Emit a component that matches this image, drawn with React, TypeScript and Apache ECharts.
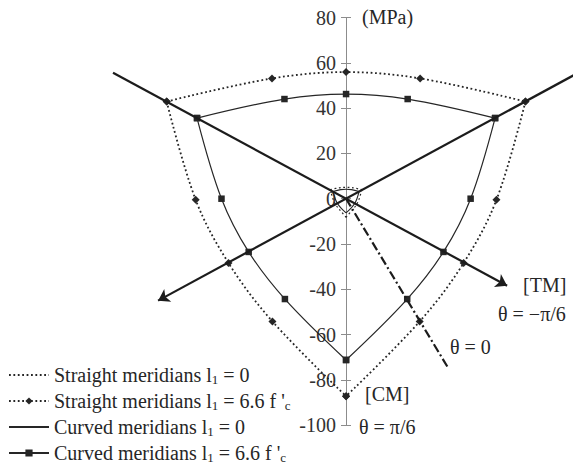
import React, { useEffect, useRef } from 'react';
import * as echarts from 'echarts';

// Vertical stress axis (MPa)
const yMin = -100;
const yMax = 80;
const yStep = 20;

// Straight meridians, l1 = 6.6 f'c  (three arcs between the sharp corners)
const straightBigTop = [[-79.2, 42.9], [-32.7, 53.1], [0, 55.9], [32.7, 53.1], [79.2, 42.9]];
const straightBigLeft = [[-79.2, 42.9], [-66.4, -0.5], [-51.9, -28.4], [-32.5, -54.2], [0, -87.2]];
const straightBigRight = [[79.2, 42.9], [66.4, -0.5], [51.9, -28.4], [32.5, -54.2], [0, -87.2]];

// Curved meridians, l1 = 6.6 f'c
const curvedBigTop = [[-65.8, 35.6], [-27.2, 44.0], [0, 46.2], [27.2, 44.0], [65.8, 35.6]];
const curvedBigLeft = [[-65.8, 35.6], [-55.0, 0], [-43.0, -23.5], [-27.0, -44.3], [0, -71.2]];
const curvedBigRight = [[65.8, 35.6], [55.0, 0], [43.0, -23.5], [27.0, -44.3], [0, -71.2]];

// Straight meridians, l1 = 0
const straightSmallTop = [[-7.0, 4.0], [-3.0, 4.8], [0, 5.0], [3.0, 4.8], [7.0, 4.0]];
const straightSmallLeft = [[-7.0, 4.0], [-5.8, 0], [-4.6, -2.6], [-2.9, -4.8], [0, -8.2]];
const straightSmallRight = [[7.0, 4.0], [5.8, 0], [4.6, -2.6], [2.9, -4.8], [0, -8.2]];

// Curved meridians, l1 = 0
const curvedSmallTop = [[-5.8, 3.2], [-2.4, 4.0], [0, 4.2], [2.4, 4.0], [5.8, 3.2]];
const curvedSmallLeft = [[-5.8, 3.2], [-4.8, 0], [-3.8, -2.1], [-2.4, -3.9], [0, -6.3]];
const curvedSmallRight = [[5.8, 3.2], [4.8, 0], [3.8, -2.1], [2.4, -3.9], [0, -6.3]];

// Meridian directions through the origin
const meridianTM = [[-102.9, 55.6], [71.1, -38.4]];
const meridianOther = [[100.5, 54.5], [-83.0, -45.0]];
const meridianZero = [[0, 0], [45.0, -74.6]];

const names = [
  'Straight meridians l1 = 0',
  "Straight meridians l1 = 6.6 f'c",
  'Curved meridians l1 = 0',
  "Curved meridians l1 = 6.6 f'c",
];

const legendText: Record<string, string> = {
  [names[0]]: '{t|Straight meridians l}{s|1}{t| = 0}',
  [names[1]]: "{t|Straight meridians l}{s|1}{t| = 6.6 f '}{s|c}",
  [names[2]]: '{t|Curved meridians l}{s|1}{t| = 0}',
  [names[3]]: "{t|Curved meridians l}{s|1}{t| = 6.6 f '}{s|c}",
};

const FONT = '"Liberation Serif", "Times New Roman", serif';
const INK = '#262626';
const AXIS = '#8c8c8c';

export default function App() {
  const ref = useRef<HTMLDivElement>(null);

  useEffect(() => {
    if (!ref.current) return;
    const chart = echarts.init(ref.current, undefined, { renderer: 'svg' });

    const dotted = [1.8, 2.6];

    // series live in the full-width plane (grid 1, x axis 1, y axis 2)
    const plane = { xAxisIndex: 1, yAxisIndex: 2 };

    const arcs = (
      name: string,
      parts: number[][][],
      lineStyle: any,
      symbol: string,
      symbolSize: number
    ) =>
      parts.map((arc) => ({
        type: 'line',
        name,
        ...plane,
        data: arc,
        smooth: 0.35,
        symbol,
        symbolSize,
        showSymbol: symbol !== 'none',
        clip: false,
        silent: true,
        lineStyle,
        itemStyle: { color: INK },
        z: 3,
      }));

    const refLine = (coords: number[][], arrow: boolean, dash?: any) => ({
      type: 'lines',
      coordinateSystem: 'cartesian2d',
      ...plane,
      silent: true,
      clip: false,
      symbol: arrow ? ['none', 'arrow'] : ['none', 'none'],
      symbolSize: 11,
      lineStyle: { color: '#1c1c1c', width: 2.2, type: dash || 'solid', curveness: 0, opacity: 1 },
      data: [{ coords }],
      z: 4,
    });

    const text = (t: string, x: number, y: number) => ({
      type: 'text',
      x,
      y,
      style: {
        text: t,
        fontFamily: FONT,
        fontSize: 20,
        fill: INK,
        align: 'left',
        verticalAlign: 'middle',
      },
    });

    chart.setOption({
      animation: false,
      backgroundColor: '#ffffff',
      grid: [
        // grid 0 starts at x = 0 of the plane and carries the visible stress axis
        { left: 346, right: 0, top: 17.5, bottom: 41.8, containLabel: false, outerBoundsMode: 'none' },
        // grid 1 spans the whole plane for the curves and meridians
        { left: 0, right: 0, top: 17.5, bottom: 41.8, containLabel: false, outerBoundsMode: 'none' },
      ],
      xAxis: [
        { type: 'value', gridIndex: 0, min: 0, max: 100.2, show: false },
        { type: 'value', gridIndex: 1, min: -152.8, max: 100.2, show: false },
      ],
      yAxis: [
        {
          type: 'value',
          gridIndex: 0,
          min: yMin,
          max: yMax,
          interval: yStep,
          position: 'left',
          axisLine: { show: true, onZero: false, lineStyle: { color: AXIS, width: 1 } },
          axisTick: { show: true, length: 5, lineStyle: { color: AXIS, width: 1 } },
          axisLabel: { fontFamily: FONT, fontSize: 20, color: '#333333', margin: 10 },
          splitLine: { show: false },
        },
        {
          type: 'value',
          gridIndex: 0,
          min: yMin,
          max: yMax,
          interval: yStep,
          position: 'left',
          offset: 0,
          axisLine: { show: false, onZero: false },
          axisTick: { show: true, inside: true, length: 5, lineStyle: { color: AXIS, width: 1 } },
          axisLabel: { show: false },
          splitLine: { show: false },
        },
        { type: 'value', gridIndex: 1, min: yMin, max: yMax, show: false },
      ],
      legend: {
        data: [
          { name: names[0], itemStyle: { opacity: 0 } },
          { name: names[1] },
          { name: names[2], itemStyle: { opacity: 0 } },
          { name: names[3] },
        ],
        orient: 'vertical',
        left: 8,
        top: 365,
        padding: 0,
        itemGap: 5,
        itemWidth: 40,
        itemHeight: 9,
        selectedMode: false,
        formatter: (n: string) => legendText[n] || n,
        textStyle: {
          fontFamily: FONT,
          fontSize: 20,
          color: INK,
          rich: {
            t: { fontFamily: FONT, fontSize: 20, color: INK, lineHeight: 22 },
            s: { fontFamily: FONT, fontSize: 13, color: INK, lineHeight: 10, verticalAlign: 'bottom' },
          },
        },
      },
      graphic: [
        text('(MPa)', 362, 17),
        text('[TM]', 523, 285),
        text('\u03b8 = \u2212\u03c0/6', 498, 314),
        text('\u03b8 = 0', 450, 347),
        text('[CM]', 365, 394),
        text('\u03b8 = \u03c0/6', 359, 427),
      ],
      series: [
        ...arcs(names[0], [straightSmallTop, straightSmallLeft, straightSmallRight], { color: INK, width: 1.2, type: dotted }, 'none', 0),
        ...arcs(names[1], [straightBigTop, straightBigLeft, straightBigRight], { color: INK, width: 1.8, type: dotted }, 'diamond', 8),
        ...arcs(names[2], [curvedSmallTop, curvedSmallLeft, curvedSmallRight], { color: INK, width: 1.1, type: 'solid' }, 'none', 0),
        ...arcs(names[3], [curvedBigTop, curvedBigLeft, curvedBigRight], { color: INK, width: 1.2, type: 'solid' }, 'rect', 6.5),
        refLine(meridianTM, true),
        refLine(meridianOther, true),
        refLine(meridianZero, false, [9, 3, 2, 3]),
      ],
    });

    return () => chart.dispose();
  }, []);

  return (
    <div
      ref={ref}
      style={{ position: 'absolute', left: 0, top: 0, width: 573, height: 467, background: '#fff' }}
    />
  );
}
